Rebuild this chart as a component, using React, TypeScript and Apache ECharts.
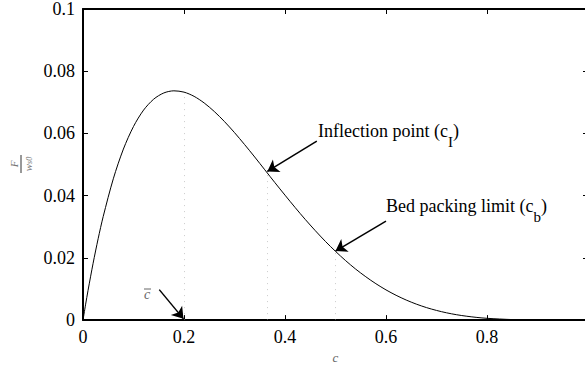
import React, { useEffect, useRef } from "react";
import * as echarts from "echarts";

// concentration c (x) and flux F/w_s0 (y)
const cValues = [0, 0.005, 0.01, 0.02, 0.03, 0.04, 0.06, 0.08, 0.1, 0.12, 0.14, 0.16, 0.18, 0.2, 0.22, 0.24, 0.26, 0.28, 0.3, 0.32, 0.34, 0.36, 0.38, 0.4, 0.42, 0.44, 0.46, 0.48, 0.5, 0.52, 0.54, 0.56, 0.58, 0.6, 0.62, 0.64, 0.66, 0.68, 0.7, 0.72, 0.74, 0.76, 0.78, 0.8, 0.85, 0.9, 0.95, 1.0];
const fValues = [0, 0.00489, 0.00956, 0.01826, 0.02616, 0.03329, 0.04542, 0.05498, 0.06224, 0.06751, 0.07102, 0.07301, 0.0737, 0.07328, 0.07192, 0.06979, 0.06705, 0.06384, 0.06027, 0.05642, 0.05243, 0.04831, 0.04419, 0.04016, 0.0362, 0.03238, 0.02875, 0.0253, 0.0221, 0.01912, 0.01639, 0.01393, 0.0117, 0.00971, 0.00797, 0.00645, 0.00514, 0.00403, 0.00311, 0.00234, 0.00172, 0.00124, 0.00086, 0.00057, 0.00017, 0.00003, 0, 0];

// marked concentrations: c-bar, inflection point c_I, bed packing limit c_b
const markerC = [0.2, 0.364, 0.5];
const markerF = [0.0733, 0.0476, 0.0221];

// annotation arrows (tail -> head) in data units
const arrowFromC = [0.151, 0.463, 0.6];
const arrowFromF = [0.0098, 0.0575, 0.0318];
const arrowToC = [0.199, 0.365, 0.5];
const arrowToF = [0.0004, 0.0478, 0.0222];

const xTicks = { min: 0, max: 1, interval: 0.2 };
const yTicks = { min: 0, max: 0.1, interval: 0.02 };

const SERIF = "Liberation Serif";

export default function App() {
  const ref = useRef<HTMLDivElement>(null);
  useEffect(() => {
    if (!ref.current) return;
    const chart = echarts.init(ref.current, undefined, { renderer: "svg" });
    const axisBase = {
      type: "value" as const,
      axisLine: { show: true, onZero: false, lineStyle: { color: "#000", width: 2 } },
      splitLine: { show: false },
    };
    chart.setOption({
      animation: false,
      backgroundColor: "#fff",
      textStyle: { fontFamily: SERIF },
      grid: { left: 83, top: 5, right: 12, bottom: 46 },
      xAxis: [
        {
          ...axisBase,
          ...xTicks,
          position: "bottom",
          axisTick: { inside: true, length: 5, lineStyle: { color: "#000", width: 1 } },
          axisLabel: { color: "#000", fontFamily: SERIF, fontSize: 18, margin: 8, showMaxLabel: false },
          name: "c",
          nameLocation: "middle",
          nameGap: 29,
          nameTextStyle: { color: "#666", fontFamily: SERIF, fontStyle: "italic", fontSize: 13 },
        },
        {
          ...axisBase,
          ...xTicks,
          position: "top",
          axisTick: { inside: true, length: 5, lineStyle: { color: "#000", width: 1 } },
          axisLabel: { show: false },
        },
      ],
      yAxis: [
        {
          ...axisBase,
          ...yTicks,
          position: "left",
          axisTick: { inside: true, length: 5, lineStyle: { color: "#000", width: 1 } },
          axisLabel: { color: "#000", fontFamily: SERIF, fontSize: 18, margin: 8 },
        },
        {
          ...axisBase,
          ...yTicks,
          position: "right",
          axisTick: { inside: true, length: 5, lineStyle: { color: "#000", width: 1 } },
          axisLabel: { show: false },
        },
      ],
      series: [
        {
          type: "line",
          xAxisIndex: 0,
          yAxisIndex: 0,
          data: cValues.map((c, i) => [c, fValues[i]]),
          showSymbol: false,
          smooth: 0.3,
          lineStyle: { color: "#000", width: 1 },
          silent: true,
          z: 5,
        },
        {
          type: "lines",
          coordinateSystem: "cartesian2d",
          xAxisIndex: 0,
          yAxisIndex: 0,
          data: markerC.map((c, i) => ({ coords: [[c, 0], [c, markerF[i]]] })),
          symbol: ["none", "none"],
          lineStyle: { color: "#999", width: 1, type: [1, 5] },
          silent: true,
          z: 3,
        },
        {
          type: "lines",
          coordinateSystem: "cartesian2d",
          xAxisIndex: 0,
          yAxisIndex: 0,
          data: arrowFromC.map((c, i) => ({ coords: [[c, arrowFromF[i]], [arrowToC[i], arrowToF[i]]] })),
          symbol: ["none", "arrow"],
          symbolSize: 11,
          lineStyle: { color: "#000", width: 1.5, opacity: 1 },
          itemStyle: { color: "#000" },
          silent: true,
          z: 6,
        },
      ],
      graphic: [
        {
          type: "text",
          left: 318,
          top: 122,
          style: {
            text: "{a|Inflection point (c}{s|I}{a|)}",
            rich: {
              a: { fontFamily: SERIF, fontSize: 18, fill: "#000", lineHeight: 22, verticalAlign: "top" },
              s: { fontFamily: SERIF, fontSize: 15, fill: "#000", lineHeight: 22, padding: [12, 0, 0, 0], verticalAlign: "top" },
            },
          },
        },
        {
          type: "text",
          left: 386,
          top: 197,
          style: {
            text: "{a|Bed packing limit (c}{s|b}{a|)}",
            rich: {
              a: { fontFamily: SERIF, fontSize: 18, fill: "#000", lineHeight: 22, verticalAlign: "top" },
              s: { fontFamily: SERIF, fontSize: 15, fill: "#000", lineHeight: 22, padding: [12, 0, 0, 0], verticalAlign: "top" },
            },
          },
        },
        {
          type: "text",
          left: 144,
          top: 287,
          style: { text: "c", fontFamily: SERIF, fontStyle: "italic", fontSize: 14, fill: "#666" },
        },
        {
          type: "line",
          shape: { x1: 144, y1: 289, x2: 151, y2: 289 },
          style: { stroke: "#666", lineWidth: 1 },
        },
        {
          type: "group",
          x: 21,
          y: 164,
          rotation: Math.PI / 2,
          children: [
            {
              type: "text",
              x: 0,
              y: -2,
              style: { text: "F", fontFamily: SERIF, fontStyle: "italic", fontSize: 11, fill: "#777", align: "center", verticalAlign: "bottom" },
            },
            {
              type: "line",
              shape: { x1: -9, y1: 0, x2: 9, y2: 0 },
              style: { stroke: "#333", lineWidth: 1 },
            },
            {
              type: "text",
              x: 0,
              y: 1,
              style: {
                text: "{w|w}{s|s0}",
                align: "center",
                verticalAlign: "top",
                rich: {
                  w: { fontFamily: SERIF, fontStyle: "italic", fontSize: 11, fill: "#777" },
                  s: { fontFamily: SERIF, fontStyle: "italic", fontSize: 8, fill: "#777", padding: [3, 0, 0, 0] },
                },
              },
            },
          ],
        },
      ],
    });
    return () => chart.dispose();
  }, []);
  return (
    <div style={{ position: "fixed", left: 0, top: 0, width: 585, height: 369, overflow: "hidden", background: "#fff" }}>
      <div ref={ref} style={{ width: 600, height: 369 }} />
    </div>
  );
}
